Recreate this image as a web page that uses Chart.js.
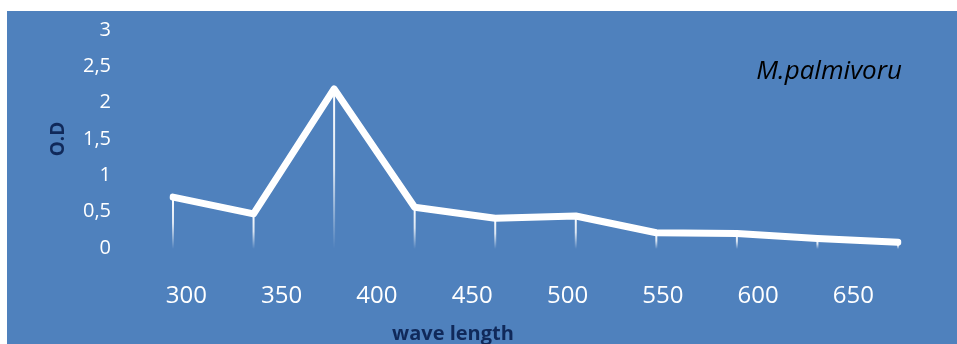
<!DOCTYPE html>
<html><head><meta charset="utf-8">
<script src="https://cdn.jsdelivr.net/npm/chart.js@4"></script>
<style>
html,body{margin:0;padding:0;background:#fff;width:957px;height:344px;overflow:hidden}
#wrap{position:absolute;left:7px;top:11px;width:950px;height:333px;background:#4F81BD}
canvas{display:block}
</style></head><body>
<div id="wrap"><canvas id="c" width="950" height="333"></canvas></div>
<script>
const categories = ['S1','S2','S3','S4','S5','S6','S7','S8','S9','S10'];
const odValues = [0.70, 0.47, 2.19, 0.56, 0.41, 0.44, 0.21, 0.20, 0.13, 0.08];
const xTickLabels = [300, 350, 400, 450, 500, 550, 600, 650];
const yTickValues = [0, 0.5, 1, 1.5, 2, 2.5, 3];
const seriesName = 'M.palmivoru';
const xTitle = 'wave length';
const yTitle = 'O.D';

const navy = '#10295A';
Chart.defaults.font.family = "'Open Sans', 'Noto Sans', sans-serif";

const dropLines = {
  id: 'dropLines',
  beforeDatasetsDraw(chart) {
    const meta = chart.getDatasetMeta(0);
    const y0 = chart.scales.y.getPixelForValue(0);
    const ctx = chart.ctx;
    ctx.save();
    meta.data.forEach(pt => {
      const g = ctx.createLinearGradient(0, pt.y, 0, y0 + 1);
      g.addColorStop(0, 'rgba(255,255,255,1)');
      g.addColorStop(0.5, 'rgba(255,255,255,0.8)');
      g.addColorStop(1, 'rgba(255,255,255,0)');
      ctx.strokeStyle = g;
      ctx.lineWidth = 2;
      ctx.beginPath();
      ctx.moveTo(pt.x, pt.y);
      ctx.lineTo(pt.x, y0 + 1);
      ctx.stroke();
    });
    ctx.restore();
  }
};

const extraText = {
  id: 'extraText',
  afterDraw(chart) {
    const ctx = chart.ctx;
    ctx.save();
    ctx.fillStyle = navy;
    ctx.font = "bold 20px 'Open Sans', sans-serif";
    ctx.textAlign = 'center';
    ctx.textBaseline = 'alphabetic';
    ctx.fillText(xTitle, 446, 329);
    ctx.fillStyle = '#000';
    ctx.font = "italic 26px 'Open Sans', sans-serif";
    ctx.textAlign = 'right';
    ctx.fillText(seriesName, 895, 68);
    ctx.restore();
  }
};

new Chart(document.getElementById('c'), {
  type: 'line',
  data: {
    labels: categories,
    datasets: [{
      label: seriesName,
      data: odValues,
      borderColor: '#fff',
      borderWidth: 7,
      borderCapStyle: 'round',
      borderJoinStyle: 'round',
      pointRadius: 0,
      tension: 0,
      fill: false
    }]
  },
  options: {
    responsive: false,
    animation: false,
    layout: { padding: { left: 0, right: 59, top: 19, bottom: 0 } },
    plugins: { legend: { display: false }, tooltip: { enabled: false } },
    scales: {
      x: { type: 'category', display: false, offset: false },
      x2: {
        type: 'linear', position: 'bottom', min: 293.0, max: 673.4,
        grid: { display: false, drawTicks: false }, border: { display: false },
        afterBuildTicks: s => { s.ticks = xTickLabels.map(v => ({ value: v })); },
        ticks: { color: '#fff', font: { size: 24 }, padding: 34, autoSkip: false, maxRotation: 0,
                 callback: v => String(v) },
        afterFit: s => { s.height = 96; s.paddingLeft = 0; s.paddingRight = 0; }
      },
      y: {
        min: 0, max: 3,
        grid: { display: false, drawTicks: false }, border: { display: false },
        afterBuildTicks: s => { s.ticks = yTickValues.map(v => ({ value: v })); },
        ticks: { color: '#fff', font: { size: 20 }, padding: 62,
                 callback: v => String(v).replace('.', ',') },
        title: { display: true, text: yTitle, color: navy, font: { size: 19, weight: 'bold' },
                 padding: { top: 40, bottom: 0 } },
        afterFit: s => { s.width = 166; s.paddingTop = 8; s.paddingBottom = 8; }
      }
    }
  },
  plugins: [dropLines, extraText]
});
</script>
</body></html>
